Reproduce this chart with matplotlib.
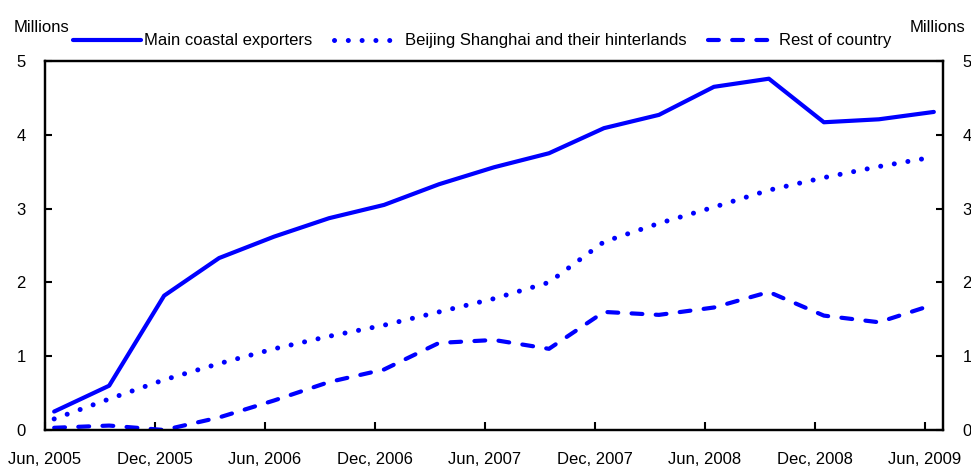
import numpy as np
import matplotlib.pyplot as plt

plt.rcParams['font.family'] = ['Liberation Sans', 'DejaVu Sans']

# quarterly observations, Jun 2005 .. Jun 2009
quarters = ['Jun 2005', 'Sep 2005', 'Dec 2005', 'Mar 2006', 'Jun 2006', 'Sep 2006',
            'Dec 2006', 'Mar 2007', 'Jun 2007', 'Sep 2007', 'Dec 2007', 'Mar 2008',
            'Jun 2008', 'Sep 2008', 'Dec 2008', 'Mar 2009', 'Jun 2009']
coastal = [0.25, 0.60, 1.82, 2.33, 2.62, 2.87, 3.05, 3.33, 3.56, 3.75, 4.09, 4.27,
           4.65, 4.76, 4.17, 4.21, 4.31]
beijing_shanghai = [0.15, 0.42, 0.68, 0.90, 1.10, 1.27, 1.42, 1.60, 1.78, 2.00, 2.55,
                    2.80, 3.02, 3.25, 3.42, 3.57, 3.70]
rest = [0.03, 0.06, 0.00, 0.17, 0.40, 0.65, 0.82, 1.18, 1.22, 1.10, 1.60, 1.56,
        1.66, 1.87, 1.55, 1.46, 1.70]
tick_labels = ['Jun, 2005', 'Dec, 2005', 'Jun, 2006', 'Dec, 2006', 'Jun, 2007',
               'Dec, 2007', 'Jun, 2008', 'Dec, 2008', 'Jun, 2009']

# months since Jun 2005, points sit mid-month
x = 0.5 + 3 * np.arange(len(quarters))
tick_pos = 6 * np.arange(len(tick_labels))

blue = '#0000ff'
fig = plt.figure(figsize=(9.71, 4.73), dpi=100)
ax = fig.add_axes([45/971, 1 - 430/473, (943 - 45)/971, (430 - 61)/473])

l1, = ax.plot(x, coastal, color=blue, lw=3, solid_capstyle='round', solid_joinstyle='round')
l2, = ax.plot(x, beijing_shanghai, color=blue, lw=3.6, linestyle=(0, (0.01, 2.75)),
              dash_capstyle='round')
l3, = ax.plot(x, rest, color=blue, lw=3, linestyle=(0, (2.6, 3.2)),
              dash_capstyle='round')

ax.set_xlim(0, 49)
ax.set_ylim(0, 5)
ax.set_xticks(tick_pos)
ax.set_xticklabels(tick_labels)
ax.set_yticks(range(6))
ax.tick_params(axis='x', direction='in', length=6, width=1.5, pad=16, labelsize=12)
ax.tick_params(axis='y', direction='in', length=5, width=1.5, pad=14, labelsize=12)
for s in ax.spines.values():
    s.set_linewidth(1.6)

ax2 = ax.twinx()
ax2.set_ylim(0, 5)
ax2.set_yticks(range(6))
ax2.tick_params(axis='y', direction='in', length=5, width=1.5, pad=14, labelsize=12)
for s in ax2.spines.values():
    s.set_linewidth(1.6)

fig.text(14/971, 1 - 27/473, 'Millions', fontsize=12, va='center', ha='left')
fig.text(910/971, 1 - 27/473, 'Millions', fontsize=12, va='center', ha='left')

fig.legend([l1, l2, l3],
           ['Main coastal exporters', 'Beijing Shanghai and their hinterlands', 'Rest of country'],
           loc='center left', bbox_to_anchor=(73/971, 1 - 41/473), ncol=3, frameon=False,
           fontsize=12, borderpad=0, borderaxespad=0, handlelength=4.1, handletextpad=0.15,
           columnspacing=1.3)

fig.savefig('out.png', dpi=100)
